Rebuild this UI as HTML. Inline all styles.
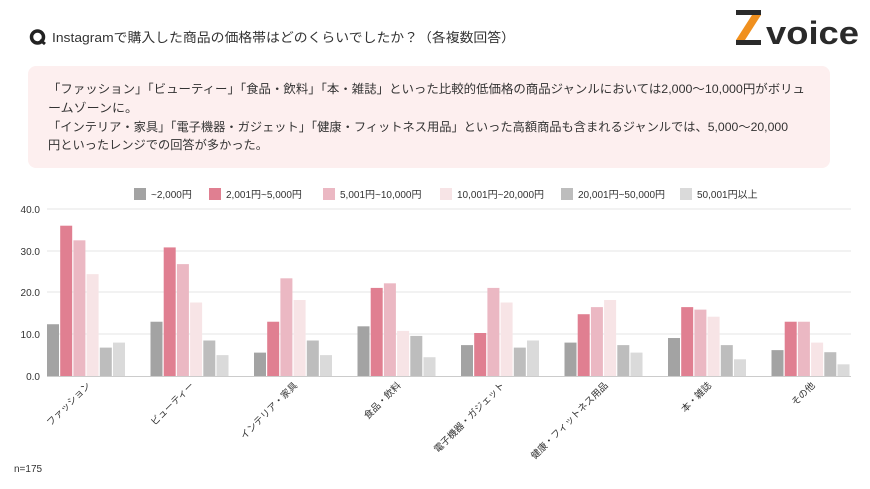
<!DOCTYPE html>
<html><head><meta charset="utf-8"><style>
html,body{margin:0;padding:0;background:#fff;}
svg{display:block;font-family:"Liberation Sans","Noto Sans CJK JP",sans-serif;}
</style></head><body>
<svg width="870" height="489" viewBox="0 0 870 489" xmlns="http://www.w3.org/2000/svg">
<rect width="870" height="489" fill="#fff"/>
<circle cx="37.5" cy="37" r="6" fill="none" stroke="#222" stroke-width="3.5"/>
<line x1="40" y1="40" x2="45" y2="44" stroke="#222" stroke-width="3"/>
<text x="52" y="42" font-size="13" fill="#333" textLength="463" lengthAdjust="spacingAndGlyphs">Instagramで購入した商品の価格帯はどのくらいでしたか？（各複数回答）</text>
<rect x="736" y="10" width="25" height="5" fill="#2a2a2a"/>
<polygon points="752,15 761,15 745,40 736,40" fill="#f0901e"/>
<rect x="736" y="40" width="25" height="5" fill="#2a2a2a"/>
<text x="766" y="44" font-size="32" font-weight="bold" fill="#2a2a2a" textLength="93" lengthAdjust="spacingAndGlyphs">voice</text>
<rect x="28" y="66" width="802" height="102" rx="8" fill="#fdefef"/>
<g font-size="12" fill="#333">
<text x="48" y="93" textLength="757" lengthAdjust="spacingAndGlyphs">「ファッション」「ビューティー」「食品・飲料」「本・雑誌」といった比較的低価格の商品ジャンルにおいては2,000〜10,000円がボリュ</text>
<text x="48" y="112" textLength="90" lengthAdjust="spacingAndGlyphs">ームゾーンに。</text>
<text x="48" y="131" textLength="740" lengthAdjust="spacingAndGlyphs">「インテリア・家具」「電子機器・ガジェット」「健康・フィットネス用品」といった高額商品も含まれるジャンルでは、5,000〜20,000</text>
<text x="48" y="149" textLength="220" lengthAdjust="spacingAndGlyphs">円といったレンジでの回答が多かった。</text>
</g>
<g font-size="10" fill="#333">
<rect x="134" y="188" width="12" height="12" fill="#a3a3a3"/><text x="151" y="198">~2,000円</text>
<rect x="209" y="188" width="12" height="12" fill="#e07f91"/><text x="226" y="198">2,001円~5,000円</text>
<rect x="323" y="188" width="12" height="12" fill="#ebb8c3"/><text x="340" y="198">5,001円~10,000円</text>
<rect x="440" y="188" width="12" height="12" fill="#f7e4e6"/><text x="457" y="198">10,001円~20,000円</text>
<rect x="561" y="188" width="12" height="12" fill="#bdbdbd"/><text x="578" y="198">20,001円~50,000円</text>
<rect x="680" y="188" width="12" height="12" fill="#dadada"/><text x="697" y="198">50,001円以上</text>
</g>
<g stroke="#e6e6e6" stroke-width="1">
<line x1="47" y1="209" x2="851" y2="209"/>
<line x1="47" y1="251" x2="851" y2="251"/>
<line x1="47" y1="292" x2="851" y2="292"/>
<line x1="47" y1="334" x2="851" y2="334"/>
</g>
<line x1="47" y1="376.5" x2="851" y2="376.5" stroke="#ccc"/>
<g font-size="10" fill="#333" text-anchor="end">
<text x="40" y="213">40.0</text><text x="40" y="255">30.0</text><text x="40" y="296">20.0</text><text x="40" y="338">10.0</text><text x="40" y="380">0.0</text>
</g>
<g id="bars"></g>
<g id="labels" font-size="9.5" fill="#333" text-anchor="end"></g>
<text x="14" y="472" font-size="10" fill="#333">n=175</text>
</svg>
<script>
var d=[[12.4,36,32.5,24.4,6.8,8],[13,30.8,26.8,17.6,8.5,5],[5.6,13,23.4,18.2,8.5,5],[11.9,21.1,22.2,10.8,9.6,4.5],[7.4,10.3,21.1,17.6,6.8,8.5],[8,14.8,16.5,18.2,7.4,5.6],[9.1,16.5,15.9,14.2,7.4,4],[6.2,13,13,8,5.7,2.8]];
var c=["#a3a3a3","#e07f91","#ebb8c3","#f7e4e6","#bdbdbd","#dadada"];
var L=["ファッション","ビューティー","インテリア・家具","食品・飲料","電子機器・ガジェット","健康・フィットネス用品","本・雑誌","その他"];
var ns="http://www.w3.org/2000/svg",b=document.getElementById("bars"),lb=document.getElementById("labels");
for(var g=0;g<8;g++){var x0=47+g*103.5;
for(var i=0;i<6;i++){var h=d[g][i]*4.175,r=document.createElementNS(ns,"rect");
r.setAttribute("x",x0+i*13.2);r.setAttribute("y",376-h);r.setAttribute("width",12);r.setAttribute("height",h);r.setAttribute("fill",c[i]);b.appendChild(r);}
var t=document.createElementNS(ns,"text"),tx=x0+44,ty=386;
t.setAttribute("x",tx);t.setAttribute("y",ty);t.setAttribute("transform","rotate(-45 "+tx+" "+ty+")");t.textContent=L[g];lb.appendChild(t);}
</script>
</body></html>
